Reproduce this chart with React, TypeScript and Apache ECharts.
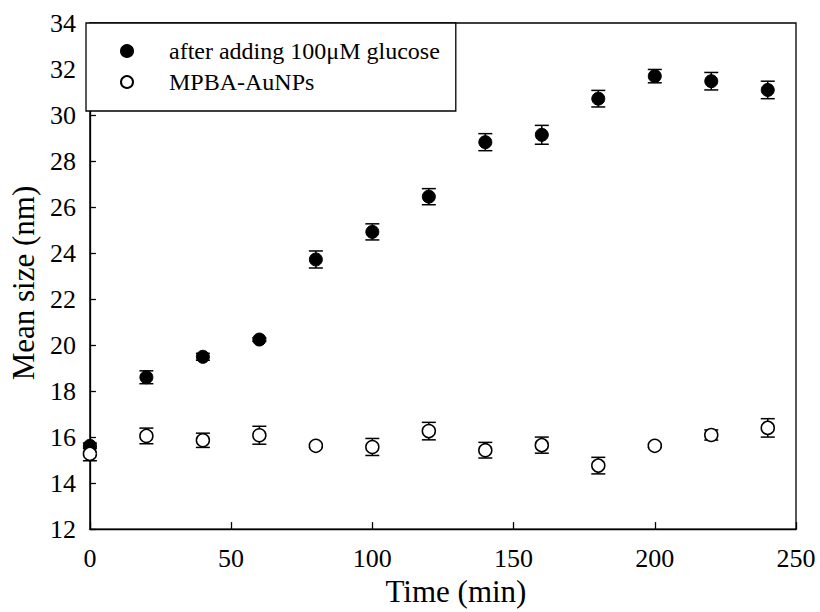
import React, { useEffect, useRef } from "react";
import * as echarts from "echarts";

const times = [0, 20, 40, 60, 80, 100, 120, 140, 160, 180, 200, 220, 240];
const glucoseMean = [15.62, 18.6, 19.49, 20.24, 23.72, 24.92, 26.45, 28.82, 29.14, 30.71, 31.69, 31.47, 31.09];
const glucoseErr = [0.12, 0.28, 0.15, 0.08, 0.37, 0.35, 0.35, 0.37, 0.41, 0.36, 0.29, 0.38, 0.38];
const aunpMean = [15.27, 16.05, 15.86, 16.08, 15.62, 15.57, 16.26, 15.43, 15.65, 14.76, 15.62, 16.09, 16.4];
const aunpErr = [0.3, 0.34, 0.31, 0.39, 0.07, 0.37, 0.38, 0.34, 0.35, 0.36, 0.07, 0.22, 0.4];
const seriesNames = ["after adding 100\u03bcM glucose", "MPBA-AuNPs"];
const yTicks = [12, 14, 16, 18, 20, 22, 24, 26, 28, 30, 32, 34];
const xTicks = [0, 50, 100, 150, 200, 250];

const FONT = "'Liberation Serif', 'Times New Roman', serif";

export default function App() {
  const ref = useRef<HTMLDivElement>(null);
  useEffect(() => {
    if (!ref.current) return;
    const chart = echarts.init(ref.current, null, { renderer: "svg" });
    const errData = (m: number[], e: number[]) =>
      times.map((t, i) => [t, m[i] - e[i], m[i] + e[i]]);
    const renderErr = (params: any, api: any) => {
      const x = api.value(0);
      const lo = api.coord([x, api.value(1)]);
      const hi = api.coord([x, api.value(2)]);
      const h = 7;
      const st = { stroke: "#000", lineWidth: 1.5 };
      return {
        type: "group",
        children: [
          { type: "line", shape: { x1: hi[0], y1: hi[1], x2: lo[0], y2: lo[1] }, style: st },
          { type: "line", shape: { x1: hi[0] - h, y1: hi[1], x2: hi[0] + h, y2: hi[1] }, style: st },
          { type: "line", shape: { x1: lo[0] - h, y1: lo[1], x2: lo[0] + h, y2: lo[1] }, style: st },
        ],
      };
    };
    chart.setOption({
      animation: false,
      backgroundColor: "#fff",
      textStyle: { fontFamily: FONT, color: "#000" },
      grid: {
        left: 86,
        top: 23,
        width: 710,
        height: 511,
        show: true,
        borderColor: "#000",
        borderWidth: 1.3,
        backgroundColor: "transparent",
      },
      legend: {
        data: seriesNames,
        orient: "vertical",
        left: 86,
        top: 23,
        padding: [16, 16, 17, 34],
        backgroundColor: "#fff",
        borderColor: "#000",
        borderWidth: 1.3,
        borderRadius: 0,
        itemWidth: 12,
        itemHeight: 12,
        itemGap: 7,
        icon: "circle",
        selectedMode: false,
        textStyle: {
          fontFamily: FONT,
          fontSize: 24,
          color: "#000",
          lineHeight: 24,
          padding: [0, 0, 0, 31],
        },
      },
      xAxis: {
        type: "value",
        min: xTicks[0],
        max: xTicks[xTicks.length - 1],
        interval: 50,
        name: "Time (min)",
        nameLocation: "middle",
        nameGap: 42,
        nameTextStyle: { fontFamily: FONT, fontSize: 31, color: "#000", padding: [0, 0, 0, 26] },
        axisLine: { show: true, lineStyle: { color: "#000", width: 1.3 } },
        axisTick: { show: true, inside: true, length: 7, lineStyle: { color: "#000", width: 1.3 } },
        axisLabel: { fontFamily: FONT, fontSize: 26, color: "#000", margin: 16 },
        splitLine: { show: false },
      },
      yAxis: {
        type: "value",
        min: yTicks[0],
        max: yTicks[yTicks.length - 1],
        interval: 2,
        name: "Mean size (nm)",
        nameLocation: "middle",
        nameGap: 45,
        nameTextStyle: { fontFamily: FONT, fontSize: 31, color: "#000", padding: [0, 14, 0, 0] },
        axisLine: { show: true, lineStyle: { color: "#000", width: 1.3 } },
        axisTick: { show: true, inside: true, length: 6, lineStyle: { color: "#000", width: 1.3 } },
        axisLabel: { fontFamily: FONT, fontSize: 26, color: "#000", margin: 14 },
        splitLine: { show: false },
      },
      series: [
        {
          name: "err-glucose",
          type: "custom",
          renderItem: renderErr,
          encode: { x: 0, y: [1, 2] },
          data: errData(glucoseMean, glucoseErr),
          z: 1,
          silent: true,
        },
        {
          name: "err-aunp",
          type: "custom",
          renderItem: renderErr,
          encode: { x: 0, y: [1, 2] },
          data: errData(aunpMean, aunpErr),
          z: 1,
          silent: true,
        },
        {
          name: seriesNames[0],
          type: "scatter",
          symbol: "circle",
          symbolSize: 13,
          itemStyle: { color: "#000", borderColor: "#000", borderWidth: 1, opacity: 1 },
          data: times.map((t, i) => [t, glucoseMean[i]]),
          z: 3,
        },
        {
          name: seriesNames[1],
          type: "scatter",
          symbol: "circle",
          symbolSize: 13,
          itemStyle: { color: "#fff", borderColor: "#000", borderWidth: 1.5, opacity: 1 },
          data: times.map((t, i) => [t, aunpMean[i]]),
          z: 3,
        },
      ],
    });
    return () => chart.dispose();
  }, []);
  return (
    <div
      ref={ref}
      style={{ position: "fixed", left: 0, top: 0, width: 820, height: 612, background: "#fff" }}
    />
  );
}
